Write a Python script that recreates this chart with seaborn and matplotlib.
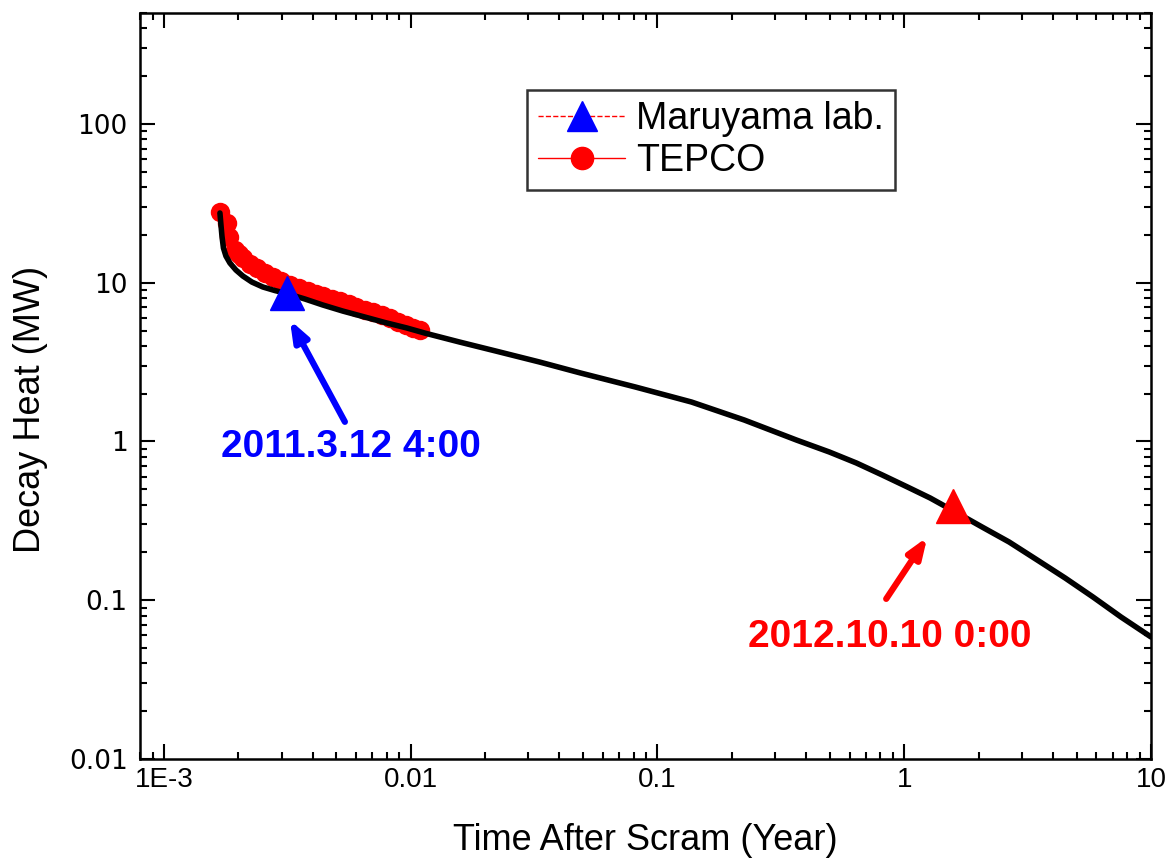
import numpy as np
import pandas as pd
import matplotlib
matplotlib.use("Agg")
import matplotlib.pyplot as plt
from matplotlib import font_manager
from matplotlib.lines import Line2D
import seaborn as sns

# Black decay heat curve (years, MW)
curve_t = [0.001686, 0.001701, 0.001718, 0.001742, 0.001783, 0.001851, 0.001957, 0.002089,
           0.002272, 0.002518, 0.002816, 0.003149, 0.003724, 0.004404, 0.005308, 0.006394,
           0.007851, 0.009638, 0.0114, 0.01579, 0.0221, 0.03327, 0.0488, 0.0815, 0.1373,
           0.2249, 0.366, 0.4977, 0.640, 0.815, 1.03, 1.274, 1.56, 2.07, 2.66, 3.46, 4.49,
           5.82, 7.56, 10.0]
curve_q = [27.5, 23.4, 19.7, 16.55, 14.73, 13.31, 12.03, 11.02,
           10.10, 9.40, 8.93, 8.55, 7.90, 7.24, 6.63, 6.13,
           5.62, 5.19, 4.82, 4.23, 3.715, 3.167, 2.70, 2.203, 1.773,
           1.365, 1.021, 0.858, 0.732, 0.615, 0.517, 0.4405, 0.370, 0.289, 0.2328, 0.1792, 0.138,
           0.1048, 0.0784, 0.0587]

# TEPCO values (red circles)
tepco_t = [0.001686, 0.001795, 0.001832, 0.00194, 0.00201, 0.002094, 0.00223, 0.002374,
           0.00256, 0.002772, 0.00299, 0.003236, 0.00352, 0.00383, 0.00412, 0.004418,
           0.00478, 0.00518, 0.00561, 0.006026, 0.00652, 0.00705, 0.00762, 0.00822,
           0.00888, 0.00955, 0.0102, 0.01089]
tepco_q = [27.9, 23.8, 19.4, 16.1, 15.1, 14.3, 13.2, 12.3,
           11.5, 10.9, 10.3, 9.68, 9.25, 8.85, 8.55, 8.25,
           7.95, 7.62, 7.33, 7.06, 6.78, 6.50, 6.22, 5.97,
           5.67, 5.40, 5.20, 5.04]

# Marked points
maruyama_t = [0.00315]
maruyama_q = [8.61]
oct_t = [1.58]
oct_q = [0.392]

labels_legend = ["Maruyama lab.", "TEPCO"]
mark_texts = ["2011.3.12 4:00", "2012.10.10 0:00"]
xtick_vals = [1e-3, 1e-2, 1e-1, 1, 10]
xtick_labels = ["1E-3", "0.01", "0.1", "1", "10"]
ytick_vals = [0.01, 0.1, 1, 10, 100]
ytick_labels = ["0.01", "0.1", "1", "10", "100"]


def pick_font(names):
    have = {f.name for f in font_manager.fontManager.ttflist}
    for n in names:
        if n in have:
            return n
    return "DejaVu Sans"


sns.set_style("ticks")
plt.rcParams['font.family'] = ['Liberation Sans', 'DejaVu Sans']
for key in ["text.color", "axes.labelcolor", "xtick.color", "ytick.color", "axes.edgecolor"]:
    plt.rcParams[key] = "black"
narrow = pick_font(["Liberation Sans Narrow", "Liberation Sans"])
is_narrow = narrow == "Liberation Sans Narrow"

fig, ax = plt.subplots(figsize=(11.67, 8.58), dpi=100)
fig.subplots_adjust(left=0.120, right=0.9863, bottom=0.1154, top=0.9848)

df_tepco = pd.DataFrame({"t": tepco_t, "q": tepco_q})
df_curve = pd.DataFrame({"t": curve_t, "q": curve_q})

sns.lineplot(data=df_tepco, x="t", y="q", ax=ax, color="red", lw=1,
             marker="o", markersize=14, markeredgewidth=0, estimator=None, sort=False)
sns.lineplot(data=df_curve, x="t", y="q", ax=ax, color="black", lw=4,
             estimator=None, sort=False, zorder=3)
ax.plot(maruyama_t, maruyama_q, ls="none", marker="^", ms=25, color="blue", mec="blue", zorder=5)
ax.plot(oct_t, oct_q, ls="none", marker="^", ms=25, color="red", mec="red", zorder=5)

ax.set_xscale("log")
ax.set_yscale("log")
ax.set_xlim(8e-4, 10)
ax.set_ylim(0.01, 500)

# arrows and date labels
txt_size = 33 if is_narrow else 28
ax.annotate("", xy=(0.00324, 5.82), xytext=(0.00541, 1.33),
            arrowprops=dict(arrowstyle="-|>,head_length=1.2,head_width=0.45", color="blue", lw=4.5,
                            shrinkA=0, shrinkB=0))
ax.annotate("", xy=(1.24, 0.250), xytext=(0.845, 0.102),
            arrowprops=dict(arrowstyle="-|>,head_length=1.2,head_width=0.45", color="red", lw=4.5,
                            shrinkA=0, shrinkB=0))
ax.text(0.00572, 0.923, mark_texts[0], color="blue", fontsize=txt_size, fontweight="bold",
        family=narrow, ha="center", va="center")
ax.text(0.877, 0.0587, mark_texts[1], color="red", fontsize=txt_size, fontweight="bold",
        family=narrow, ha="center", va="center")

# ticks
ax.set_xticks(xtick_vals)
ax.set_xticklabels(xtick_labels)
ax.set_yticks(ytick_vals)
ax.set_yticklabels(ytick_labels)
ax.tick_params(which="both", direction="in", top=True, right=True, width=1.5, color="black")
ax.tick_params(which="major", length=11)
ax.tick_params(which="minor", length=5)
ax.tick_params(axis="x", which="major", pad=6, labelsize=22 if is_narrow else 20)
ax.tick_params(axis="y", which="major", pad=9, labelsize=19)
for lab in ax.get_xticklabels():
    lab.set_family(narrow)
for lab in ax.get_yticklabels():
    lab.set_family("DejaVu Sans")
for s in ax.spines.values():
    s.set_linewidth(1.8)
    s.set_color("black")

lab_size = 31 if is_narrow else 26
ax.set_xlabel("Time After Scram (Year)", fontsize=lab_size, family=narrow)
ax.set_ylabel("Decay Heat (MW)", fontsize=lab_size, family=narrow)
ax.xaxis.set_label_coords(0.5, -0.086)
ax.yaxis.set_label_coords(-0.091, 0.468)

handles = [
    Line2D([], [], color="red", ls="--", lw=1, marker="^", ms=21, mfc="blue", mec="blue"),
    Line2D([], [], color="red", ls="-", lw=1, marker="o", ms=16, mfc="red", mec="red"),
]
leg = ax.legend(handles, labels_legend, loc="upper left", bbox_to_anchor=(0.383, 0.8968),
                borderaxespad=0, fontsize=27, frameon=True, fancybox=False,
                handlelength=2.3, handletextpad=0.3, borderpad=0.3, labelspacing=0.15)
leg.get_frame().set_edgecolor("black")
leg.get_frame().set_linewidth(1.8)

fig.savefig("out.png", dpi=100)
